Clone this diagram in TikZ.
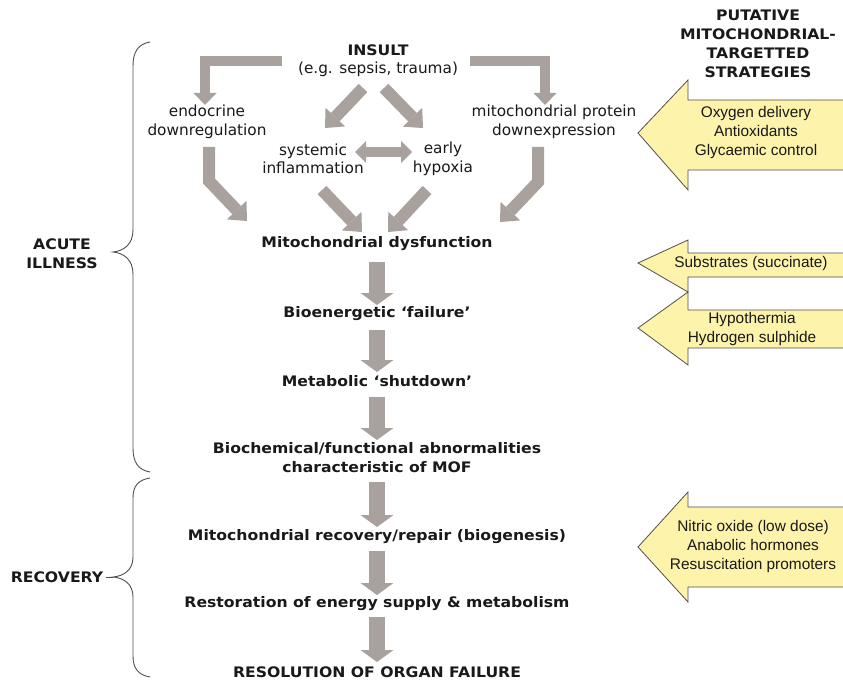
\documentclass[tikz,border=0pt]{standalone}
\usepackage{fontspec}
\setmainfont{DejaVu Sans}
\newfontfamily\vbold{DejaVu Sans}[FakeStretch=1.08]
\newfontfamily\arialf{Liberation Sans}
\usetikzlibrary{arrows.meta}
\definecolor{agray}{RGB}{168,161,158}
\definecolor{ayel}{RGB}{253,243,170}
\definecolor{txt}{RGB}{25,25,25}
\definecolor{bgray}{RGB}{80,80,80}
\tikzset{
  treg/.style={font=\fontsize{15.3}{18.5}\selectfont, align=center, inner sep=0pt, text=txt},
  tbold/.style={font=\vbold\bfseries\fontsize{14.5}{19}\selectfont, align=center, inner sep=0pt, text=txt},
  tstrat/.style={font=\arialf\fontsize{15.4}{19}\selectfont, align=center, inner sep=0pt, text=txt},
  vga/.style={draw=agray, line width=16pt, -{Triangle[width=33pt,length=12pt,line width=0pt]}},
  dga/.style={draw=agray, line width=12pt, line join=miter, -{Triangle[width=27pt,length=15pt,line width=0pt]}},
  ega/.style={draw=agray, line width=10pt, line join=miter, -{Triangle[width=23pt,length=12pt,line width=0pt]}},
  bga/.style={draw=agray, line width=10pt, {Triangle[width=22pt,length=11pt,line width=0pt]}-{Triangle[width=22pt,length=11pt,line width=0pt]}},
  ystrat/.style={fill=ayel, draw=bgray, line width=0.8pt, line join=miter},
  bracestyle/.style={draw=bgray, line width=0.9pt},
}
\begin{document}
\begin{tikzpicture}[x=1pt,y=-1pt]
\useasboundingbox (0,0) rectangle (843,682);
\fill[white] (0,0) rectangle (843,682);

% header
\node[tbold] (head) at (758,44) {PUTATIVE\\MITOCHONDRIAL-\\TARGETTED\\STRATEGIES};

% top nodes
\node[tbold] (insult) at (378,50) {INSULT};
\node[treg] (eg) at (378,69) {(e.g. sepsis, trauma)};
\node[treg] (endo) at (207,122) {endocrine\\downregulation};
\node[treg] (mprot) at (554,122) {mitochondrial protein\\downexpression};
\node[treg] (sys) at (313,159) {systemic\\inflammation};
\node[treg] (hyp) at (443,159) {early\\hypoxia};

% main chain
\node[tbold] (mito) at (377,244) {Mitochondrial dysfunction};
\node[tbold] (bio) at (377,314) {Bioenergetic ‘failure’};
\node[tbold] (meta) at (377,381) {Metabolic ‘shutdown’};
\node[tbold] (bioch) at (377,458) {Biochemical/functional abnormalities\\characteristic of MOF};
\node[tbold] (rec) at (377,537) {Mitochondrial recovery/repair (biogenesis)};
\node[tbold] (rest) at (377,604) {Restoration of energy supply \& metabolism};
\node[tbold] (resol) at (377,672) {RESOLUTION OF ORGAN FAILURE};

% side labels
\node[tbold] (acute) at (62,254) {ACUTE\\ILLNESS};
\node[tbold] (recov) at (57,577) {RECOVERY};

% coordinates for free arrow ends
\coordinate (l1a) at (282,61);
\coordinate (l1b) at (205,61);
\coordinate (l1c) at (205,105);
\coordinate (r1a) at (470,61);
\coordinate (r1b) at (545,61);
\coordinate (r1c) at (545,105);
\coordinate (d1a) at (363,88);
\coordinate (d1b) at (325,128);
\coordinate (d2a) at (384,88);
\coordinate (d2b) at (423,128);
\coordinate (ba) at (355,152);
\coordinate (bb) at (412,152);
\coordinate (l2a) at (209,147);
\coordinate (l2b) at (209,181);
\coordinate (l2c) at (247,221);
\coordinate (r2a) at (538,147);
\coordinate (r2b) at (538,182);
\coordinate (r2c) at (500,222);
\coordinate (s1a) at (322,190);
\coordinate (s1b) at (362,232);
\coordinate (h1a) at (427,190);
\coordinate (h1b) at (388,232);

% grey arrows (top part)
\draw[ega] (l1a) -- (l1b) -- (l1c);
\draw[ega] (r1a) -- (r1b) -- (r1c);
\draw[dga] (d1a) -- (d1b);
\draw[dga] (d2a) -- (d2b);
\draw[bga] (ba) -- (bb);
\draw[dga] (l2a) -- (l2b) -- (l2c);
\draw[dga] (r2a) -- (r2b) -- (r2c);
\draw[dga] (s1a) -- (s1b);
\draw[dga] (h1a) -- (h1b);

% vertical chain arrows
\draw[vga, shorten <=18pt, shorten >=9pt] (mito.center) -- (bio.center);
\draw[vga, shorten <=16pt, shorten >=9pt] (bio.center) -- (meta.center);
\draw[vga, shorten <=16pt, shorten >=18pt] (meta.center) -- (bioch.center);
\draw[vga, shorten <=24pt, shorten >=10pt] (bioch.center) -- (rec.center);
\draw[vga, shorten <=14pt, shorten >=9pt] (rec.center) -- (rest.center);
\draw[vga, shorten <=13pt, shorten >=10pt] (rest.center) -- (resol.center);

% braces
\draw[bracestyle] (150,42) .. controls (138,44) and (133,52) .. (133,66) -- (133,230)
  .. controls (133,244) and (124,251) .. (113,252)
  .. controls (124,253) and (133,260) .. (133,274) -- (133,448)
  .. controls (133,462) and (138,470) .. (150,472);
\draw[bracestyle] (150,478) .. controls (138,480) and (133,486) .. (133,498) -- (133,557)
  .. controls (133,570) and (124,576) .. (113,577)
  .. controls (124,578) and (133,584) .. (133,597) -- (133,656)
  .. controls (133,668) and (138,675) .. (150,677);
\draw[bracestyle] (113,577) -- (106,577);

% strategy arrows
\begin{scope}
\clip (0,0) rectangle (843,682);
\draw[ystrat] (860,100) -- (688,100) -- (688,80) -- (638,133) -- (688,190) -- (688,170) -- (860,170);
\draw[ystrat] (860,253) -- (688,253) -- (688,240) -- (638,263) -- (688,292) -- (688,277) -- (860,277);
\draw[ystrat] (860,310) -- (688,310) -- (688,292) -- (638,328) -- (688,365) -- (688,348) -- (860,348);
\draw[ystrat] (860,507) -- (688,507) -- (688,492) -- (638,547) -- (688,602) -- (688,587) -- (860,587);
\end{scope}
\node[tstrat] (s1) at (756,133) {Oxygen delivery\\Antioxidants\\Glycaemic control};
\node[tstrat] (s2) at (751,264) {Substrates (succinate)};
\node[tstrat] (s3) at (752,329) {Hypothermia\\Hydrogen sulphide};
\node[tstrat] (s4) at (753,547) {Nitric oxide (low dose)\\Anabolic hormones\\Resuscitation promoters};
\end{tikzpicture}
\end{document}
